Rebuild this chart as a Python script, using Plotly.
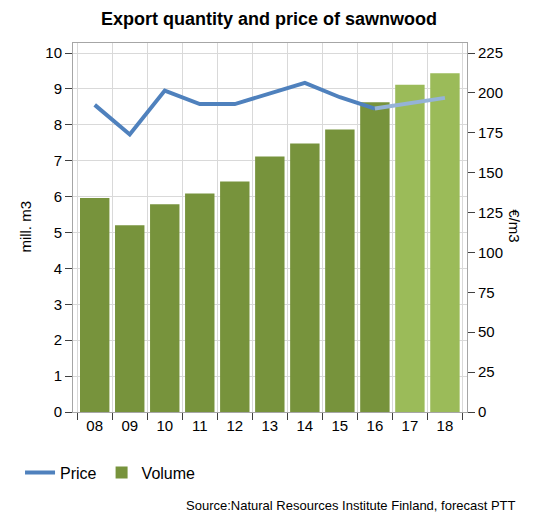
import plotly.graph_objects as go

# years (short labels) and values
years = ['08', '09', '10', '11', '12', '13', '14', '15', '16', '17', '18']
volume = [5.96, 5.20, 5.79, 6.09, 6.42, 7.12, 7.48, 7.87, 8.63, 9.12, 9.44]
price = [192.5, 174.0, 201.5, 193.0, 193.0, 199.4, 206.3, 197.3, 190.2, 193.8, 196.9]
n_actual = 9  # 08-16 actual, 17-18 forecast

dark_green = '#77933c'
light_green = '#9bbb59'
dark_blue = '#4f81bd'
light_blue = '#95b3d7'
font_family = 'Liberation Sans, Arial, sans-serif'

bar_colors = [dark_green] * n_actual + [light_green] * (len(years) - n_actual)

fig = go.Figure()
fig.add_trace(go.Bar(x=years, y=volume, name='Volume', marker_color=bar_colors,
                     marker_line_width=0, showlegend=True))
fig.add_trace(go.Scatter(x=years[:n_actual], y=price[:n_actual], name='Price', yaxis='y2',
                         mode='lines', line=dict(color=dark_blue, width=4)))
fig.add_trace(go.Scatter(x=years[n_actual - 1:], y=price[n_actual - 1:], name='Price forecast',
                         yaxis='y2', mode='lines', line=dict(color=light_blue, width=4),
                         showlegend=False))

# page body has an 8px margin, so screen positions are shifted by it
off = 8
W, H = 544, 531
L, R, T, B = 65 - off, 466.7 - off, 43.3 - off, 412.3 - off
pw, ph = R - L, B - T

def px(x):
    return (x - off - L) / pw

def py(y):
    return (B - (y - off)) / ph

axis_font = dict(family=font_family, size=15, color='#000000')

fig.update_layout(
    width=W, height=H,
    margin=dict(l=L, r=W - R, t=T, b=H - B, pad=0),
    paper_bgcolor='white', plot_bgcolor='white',
    font=dict(family=font_family, color='#000000'),
    bargap=0.16,
    title=dict(text='<b>Export quantity and price of sawnwood</b>', xref='container', yref='container',
               x=(269 - off) / W, y=1 - (19 - off) / H, xanchor='center', yanchor='middle',
               font=dict(size=18, family=font_family, color='#000000')),
    xaxis=dict(type='category', range=[-0.62, 10.63], tickson='boundaries',
               ticks='outside', ticklen=7, tickcolor='#404040',
               showgrid=True, gridcolor='#d9d9d9', gridwidth=1,
               showline=True, linecolor='#a6a6a6', mirror=True,
               tickfont=axis_font),
    yaxis=dict(range=[0, 10.28], tickvals=list(range(0, 11)), ticks='outside', ticklen=7,
               tickcolor='#404040', showgrid=True, gridcolor='#d9d9d9', gridwidth=1,
               showline=True, linecolor='#a6a6a6', zeroline=False, tickfont=axis_font),
    yaxis2=dict(range=[0, 231.3], tickvals=list(range(0, 226, 25)), overlaying='y', side='right',
                ticks='outside', ticklen=7, tickcolor='#404040', showgrid=False,
                showline=True, linecolor='#a6a6a6', zeroline=False, tickfont=axis_font),
    legend=dict(orientation='h', x=px(11), y=py(473), xanchor='left', yanchor='middle',
                traceorder='reversed', font=dict(size=16, family=font_family),
                itemwidth=30, tracegroupgap=0, bgcolor='rgba(0,0,0,0)'),
    annotations=[
        dict(text='mill. m3', xref='paper', yref='paper', x=px(17), y=py(227),
             textangle=-90, showarrow=False, xanchor='center', yanchor='middle',
             font=dict(size=15, family=font_family)),
        dict(text='€/m3', xref='paper', yref='paper', x=px(515), y=py(226),
             textangle=90, showarrow=False, xanchor='center', yanchor='middle',
             font=dict(size=15, family=font_family)),
        dict(text='Source:Natural Resources Institute Finland, forecast PTT', xref='paper',
             yref='paper', x=px(519), y=py(505.7), showarrow=False, xanchor='right',
             yanchor='middle', font=dict(size=13, family=font_family)),
    ],
)

fig.write_html('out.html')
